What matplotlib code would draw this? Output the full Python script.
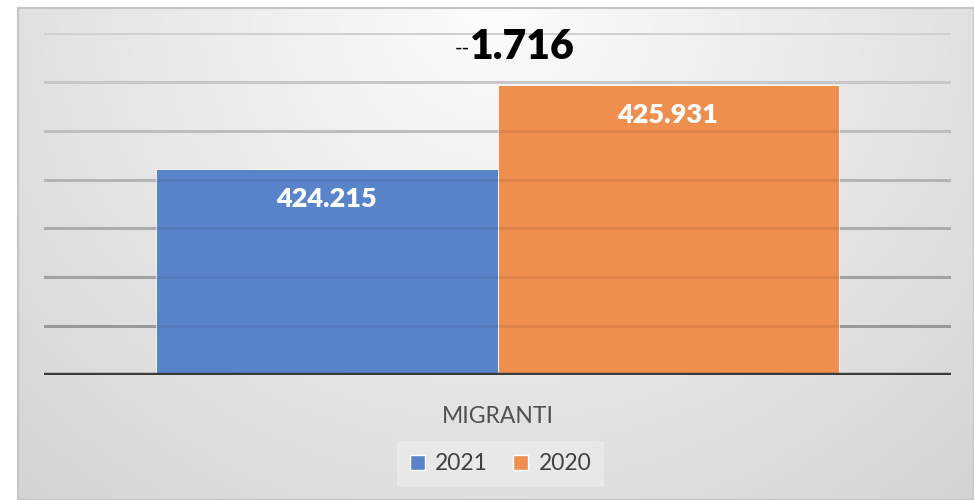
import numpy as np
import matplotlib
matplotlib.use("Agg")
import matplotlib.pyplot as plt
from matplotlib.patches import Patch

# ---- data ----
category = "MIGRANTI"
series_names = ["2021", "2020"]
values = [424.215, 425.931]
value_labels = ["424.215", "425.931"]
difference_label = "1.716"
y_min, y_max, y_step = 420, 427, 1

colors = ["#5a84c9", "#ee8e4f"]
FONT = "Lato"

fig = plt.figure(figsize=(9.74, 5.0), dpi=100)
W, H = 974, 500

# ---- background panel with gradient ----
bg = fig.add_axes([18 / W, 0, 1 - 18 / W, (H - 8) / H], zorder=0)
nx, ny = 300, 160
xx, yy = np.meshgrid(np.linspace(0, 1, nx), np.linspace(0, 1, ny))
r = np.sqrt(((xx - 0.5) / 0.55) ** 2 + (yy / 1.0) ** 2)
val = np.clip(252 - 30 * r, 200, 252) / 255.0
img = np.dstack([val, val, val])
bg.imshow(img, aspect="auto", extent=[0, 1, 1, 0], interpolation="bilinear")
bg.set_xlim(0, 1)
bg.set_ylim(1, 0)
bg.set_xticks([])
bg.set_yticks([])
for s in bg.spines.values():
    s.set_color("#c4c4c4")
    s.set_linewidth(1.5)

# ---- main axes ----
ax = fig.add_axes([44 / W, (H - 375) / H, (951 - 44) / W, (375 - 33) / H], zorder=1)
ax.patch.set_alpha(0)
ax.set_xlim(-0.5, 0.5)
ax.set_ylim(y_min, y_max)

# gridlines (colour fades lighter toward the top)
grid_vals = np.arange(y_min + y_step, y_max + y_step / 2, y_step)
for gv in grid_vals:
    t = (gv - y_min) / (y_max - y_min)
    g = 0.60 + 0.27 * t
    ax.axhline(gv, color=(g, g, g), lw=2.2, zorder=1)

bw = 0.376
xs = [-bw / 2, bw / 2]
ax.bar(xs, [v - y_min for v in values], bottom=y_min, width=bw,
       color=colors, zorder=2, edgecolor="white", linewidth=0.6)
# faint gridlines visible through the bars
for gv in grid_vals:
    ax.axhline(gv, color="black", alpha=0.06, lw=2.2, zorder=2.5)

for x, v, lab in zip(xs, values, value_labels):
    ax.annotate(lab, (x, v), xytext=(0, -30), textcoords="offset pixels",
                ha="center", va="center", color="white", fontsize=19.5,
                fontweight="heavy", family=FONT, zorder=3)

ax.axhline(y_min, color="#3a3a3a", lw=3.2, zorder=4)

ax.set_xticks([0])
ax.set_xticklabels([category])
ax.tick_params(axis="x", length=0, pad=22, labelsize=16.5, labelcolor="#505050")
for lab in ax.get_xticklabels():
    lab.set_family(FONT)
ax.set_yticks([])
for s in ax.spines.values():
    s.set_visible(False)

# ---- difference title ----
fig.text(470 / W, 1 - 49 / H, "--", ha="right", va="center", fontsize=15,
         family=FONT, color="#000000")
fig.text(522 / W, 1 - 47 / H, difference_label, ha="center", va="center",
         fontsize=29.5, fontweight="heavy", family=FONT, color="#000000")

# ---- legend ----
handles = [Patch(facecolor=c, edgecolor="white") for c in colors]
leg = fig.legend(handles, series_names, loc="center",
                 bbox_to_anchor=(500.5 / W, 1 - 464 / H), ncol=2,
                 frameon=True, handlelength=0.65, handleheight=0.65,
                 handletextpad=0.45, columnspacing=1.1, borderpad=0.55,
                 prop={"family": FONT, "size": 16.5})
leg.get_frame().set_facecolor("#ebebeb")
leg.get_frame().set_edgecolor("none")
leg.get_frame().set_boxstyle("square", pad=0)
for t in leg.get_texts():
    t.set_color("#404040")

fig.savefig("out.png", dpi=100)
